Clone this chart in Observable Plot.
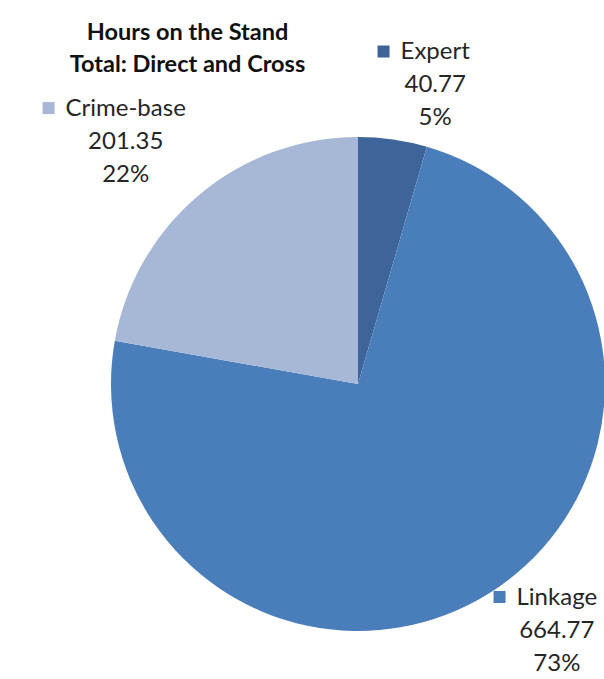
<!DOCTYPE html>
<html><head><meta charset="utf-8">
<script src="https://cdn.jsdelivr.net/npm/d3@7"></script>
<script src="https://cdn.jsdelivr.net/npm/@observablehq/plot@0.6"></script>
<style>body{margin:0;background:#fff}</style>
</head><body><div id="chart"></div>
<script>
const categories = ["Expert", "Linkage", "Crime-base"];
const hours = [40.77, 664.77, 201.35];
const percentLabels = ["5%", "73%", "22%"];
const colors = ["#3e659a", "#4a7ebb", "#a7b8d6"];
const titleLines = ["Hours on the Stand", "Total: Direct and Cross"];

const W = 604, H = 679;
const cx = 358, cy = 384, R = 247;
const FONT = "Lato";
const labelSize = 24, titleSize = 23.5, lineH = 33;
const sq = 12, sqGap = 11, arcGap = 6;

const data = categories.map((c, i) => ({category: c, value: hours[i], pct: percentLabels[i]}));
const arcs = d3.pie().sort(null).value(d => d.value)(data);
const colorScale = Plot.scale({color: {domain: categories, range: colors}});

const ctx = document.createElement("canvas").getContext("2d");
ctx.font = `${labelSize}px ${FONT}`;
const tw = s => ctx.measureText(s).width;

const toX = px => (px - cx) / R, toY = py => (cy - py) / R;

const labels = arcs.map(a => {
  const th = (a.startAngle + a.endAngle) / 2;
  const s = Math.sin(th), c = Math.cos(th);
  const textW = Math.max(tw(a.data.category), tw(String(a.data.value)), tw(a.data.pct));
  const bw = sq + sqGap + textW, bh = 3 * lineH;
  let bx = cx + (R + arcGap) * s + Math.sign(s) * (0.5 + Math.abs(s)) * bw / 2;
  let by = cy - (R + arcGap) * c - Math.sign(c) * bh / 2;
  bx = Math.max(bw / 2, Math.min(W - bw / 2, bx));
  by = Math.max(bh / 2, Math.min(H - bh / 2, by));
  const left = bx - bw / 2;
  return {
    category: a.data.category,
    text: `${a.data.category}\n${a.data.value}\n${a.data.pct}`,
    tx: toX(left + sq + sqGap + textW / 2), ty: toY(by),
    sx: toX(left + sq / 2), sy: toY(by - lineH)
  };
});

function pieMark(index, scales) {
  const x0 = scales.x(0), y0 = scales.y(0);
  const r = scales.x(1) - scales.x(0);
  const arc = d3.arc().innerRadius(0).outerRadius(r);
  const g = d3.create("svg:g").attr("transform", `translate(${x0},${y0})`);
  g.selectAll("path").data(arcs).join("path")
    .attr("d", arc).attr("fill", d => colorScale.apply(d.data.category));
  return g.node();
}

const chart = Plot.plot({
  width: W, height: H,
  margin: 0,
  style: {fontFamily: FONT, background: "#fff"},
  x: {domain: [-cx / R, (W - cx) / R], axis: null},
  y: {domain: [-(H - cy) / R, cy / R], axis: null},
  color: {domain: categories, range: colors},
  marks: [
    pieMark,
    Plot.dot(labels, {x: "sx", y: "sy", symbol: "square", r: sq / Math.sqrt(Math.PI), fill: "category"}),
    Plot.text(labels, {x: "tx", y: "ty", dy: -3, text: "text", fontSize: labelSize, lineHeight: lineH / labelSize, fill: "#262626", textAnchor: "middle"}),
    Plot.text([titleLines.join("\n")], {frameAnchor: "top-left", dx: 187, dy: 17, lineAnchor: "top", textAnchor: "middle", fontSize: titleSize, fontWeight: "bold", lineHeight: 32 / titleSize, fill: "#111"})
  ]
});
document.getElementById("chart").appendChild(chart);
</script>
</body></html>
